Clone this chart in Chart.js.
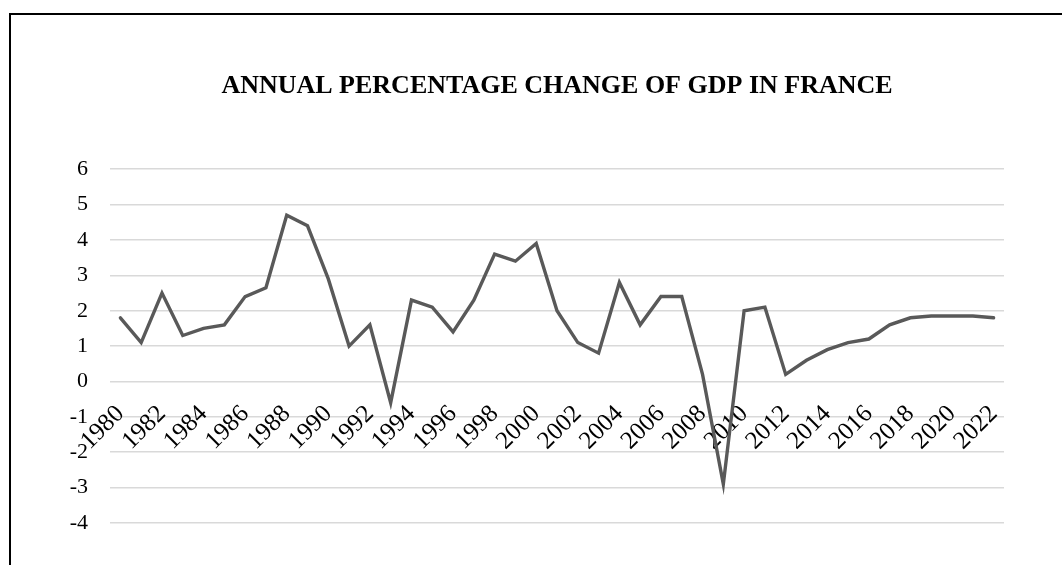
<!DOCTYPE html>
<html>
<head>
<meta charset="utf-8">
<script src="https://cdn.jsdelivr.net/npm/chart.js@4"></script>
<style>
  html, body { margin: 0; padding: 0; background: #fff; overflow: hidden; }
  #frame {
    position: absolute; left: 9px; top: 13px; width: 1100px; height: 600px;
    border-top: 2px solid #000; border-left: 2px solid #000;
  }
  #wrap { position: absolute; left: 0; top: 0; width: 1062px; height: 565px; }
</style>
</head>
<body>
<div id="frame"></div>
<div id="wrap"><canvas id="chart"></canvas></div>
<script>
const years = [
  '1980', '1981', '1982', '1983', '1984', '1985', '1986', '1987', '1988', '1989',
  '1990', '1991', '1992', '1993', '1994', '1995', '1996', '1997', '1998', '1999',
  '2000', '2001', '2002', '2003', '2004', '2005', '2006', '2007', '2008', '2009',
  '2010', '2011', '2012', '2013', '2014', '2015', '2016', '2017', '2018', '2019',
  '2020', '2021', '2022',
];
const gdpChange = [
  1.8, 1.1, 2.5, 1.3, 1.5, 1.6, 2.4, 2.65, 4.7, 4.4,
  2.9, 1.0, 1.6, -0.6, 2.3, 2.1, 1.4, 2.3, 3.6, 3.4,
  3.9, 2.0, 1.1, 0.8, 2.8, 1.6, 2.4, 2.4, 0.2, -2.9,
  2.0, 2.1, 0.2, 0.6, 0.9, 1.1, 1.2, 1.6, 1.8, 1.85,
  1.85, 1.85, 1.8,
];
const yMin = -4;
const yMax = 6;
const chartTitle = 'ANNUAL PERCENTAGE CHANGE OF GDP IN FRANCE';

const serif = '"Liberation Serif", "Times New Roman", serif';

new Chart(document.getElementById('chart'), {
  type: 'line',
  data: {
    labels: years,
    datasets: [{
      label: 'GDP',
      data: gdpChange,
      borderColor: '#595959',
      borderWidth: 3.4,
      borderCapStyle: 'round',
      pointRadius: 0,
      pointHoverRadius: 0,
      tension: 0,
    }],
  },
  options: {
    responsive: true,
    maintainAspectRatio: false,
    animation: false,
    layout: { padding: { left: 0, right: 58, top: 0, bottom: 42 } },
    plugins: {
      legend: { display: false },
      tooltip: { enabled: false },
      title: {
        display: true,
        text: chartTitle,
        color: '#000',
        fullSize: false,
        font: { family: serif, size: 26, weight: 'bold', lineHeight: 1.2 },
        padding: { top: 71, bottom: 67 },
      },
    },
    scales: {
      x: {
        // labels sit under the zero line, like the original
        position: { y: 0 },
        offset: true,
        grid: { display: false, drawTicks: false },
        border: { display: false },
        ticks: {
          autoSkip: false,
          minRotation: 45,
          maxRotation: 45,
          padding: 18,
          color: '#000',
          font: { family: serif, size: 25 },
          callback(value, index) {
            return index % 2 === 0 ? this.getLabelForValue(value) : null;
          },
        },
        afterFit(scale) {
          scale.height = 0;
          scale.paddingLeft = 0;
          scale.paddingRight = 0;
        },
      },
      y: {
        min: yMin,
        max: yMax,
        grid: { color: '#d9d9d9', lineWidth: 1.5, drawTicks: false },
        border: { display: false },
        ticks: {
          stepSize: 1,
          padding: 22,
          color: '#000',
          font: { family: serif, size: 22 },
        },
        afterFit(scale) {
          scale.width = 110;
          scale.paddingTop = 0;
          scale.paddingBottom = 0;
        },
      },
    },
  },
});
</script>
</body>
</html>
